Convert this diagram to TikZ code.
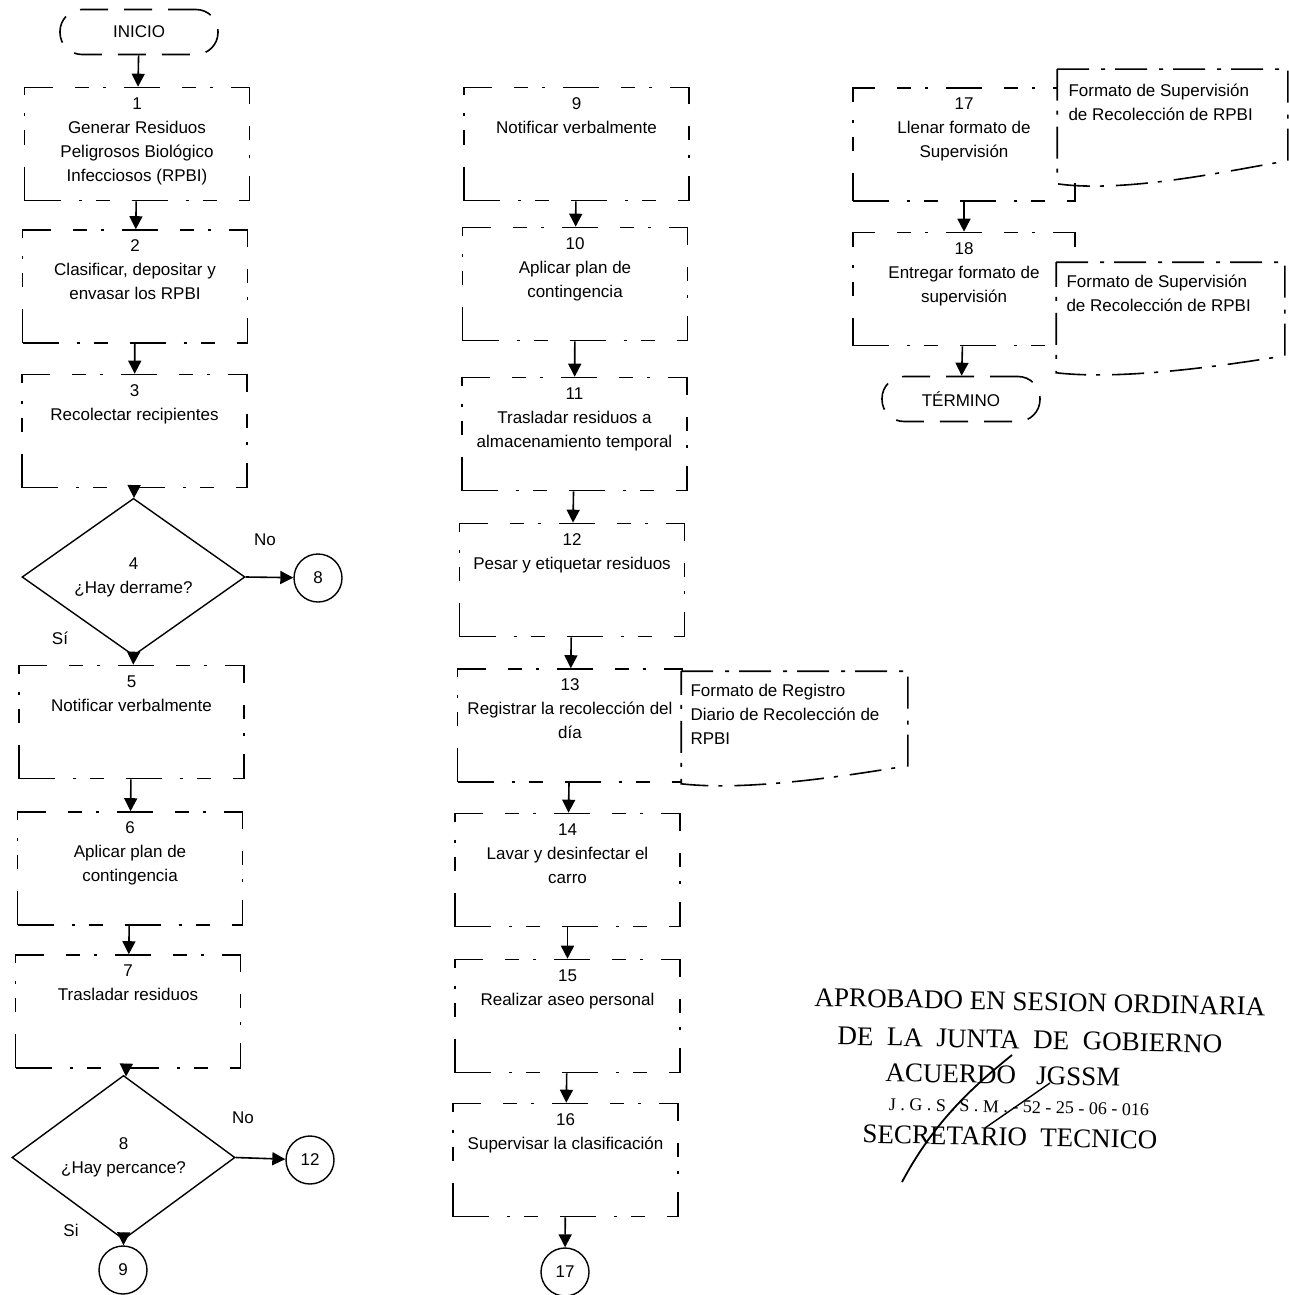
\documentclass[tikz,border=0pt]{standalone}
\usepackage{fontspec}
\setmainfont{Liberation Sans}
\newfontfamily\stampfont{Liberation Serif}
\usetikzlibrary{positioning,arrows.meta,calc,shapes.geometric}

\begin{document}
\begin{tikzpicture}[x=0.5pt,y=-0.5pt,>={Triangle[length=6.5pt,width=6.5pt]},line width=0.8pt,
 font=\fontsize{8.5}{12}\selectfont,
 stepbox/.style={draw,line width=0.8pt,dash pattern=on 18pt off 9pt on 1.5pt off 7pt on 7pt off 11pt,minimum width=112.5pt,minimum height=56.5pt,inner sep=0pt,
  execute at begin node={\begin{minipage}[t][46.5pt][t]{108pt}\centering},execute at end node={\end{minipage}}},
 decision/.style={draw,diamond,line width=0.7pt,minimum width=111.5pt,minimum height=56.5pt,inner sep=0pt,align=center},
 joint/.style={draw,circle,line width=0.7pt,minimum size=24pt,inner sep=0pt},
 terminal/.style={draw,rounded corners=11pt,line width=0.8pt,dash pattern=on 14pt off 8pt,minimum width=79pt,minimum height=22.5pt,inner sep=0pt},
 docbox/.style={fill=white,minimum height=55.5pt,inner sep=0pt,
  execute at begin node={\begin{minipage}[t][43pt][t]{104pt}\raggedright},execute at end node={\end{minipage}}},
 docline/.style={line width=0.8pt,dash pattern=on 16pt off 6pt on 2pt off 5pt},
 lbl/.style={inner sep=1pt},
 stamp/.style={rotate=-1.2,inner sep=0pt}]
\useasboundingbox (0,0) rectangle (1289,1295);
% first column
\node[terminal] (ini) at (139,32) {INICIO};
\node[stepbox] (b1) at (137,144) {1\\Generar Residuos\\Peligrosos Biológico\\Infecciosos (RPBI)};
\node[stepbox] (b2) at (135,286.5) {2\\Clasificar, depositar y\\envasar los RPBI};
\node[stepbox] (b3) at (134.5,431) {3\\Recolectar recipientes};
\node[decision] (d4) at (133.5,577) {4\\¿Hay derrame?};
\node[joint] (c8) at (318,578) {8};
\node[stepbox] (b5) at (131.5,722) {5\\Notificar verbalmente};
\node[stepbox] (b6) at (130,868.5) {6\\Aplicar plan de\\contingencia};
\node[stepbox] (b7) at (128,1011.5) {7\\Trasladar residuos};
\node[decision] (d8) at (123.5,1157.5) {8\\¿Hay percance?};
\node[joint] (c12) at (310,1160) {12};
\node[joint] (c9) at (123,1270) {9};
\node[lbl] (no4) at (265,540) {No};
\node[lbl] (si4) at (60,638) {Sí};
\node[lbl] (no8) at (243,1118) {No};
\node[lbl] (si8) at (71,1230) {Si};
% second column
\node[stepbox] (b9) at (576.5,144) {9\\Notificar verbalmente};
\node[stepbox] (b10) at (575,284) {10\\Aplicar plan de\\contingencia};
\node[stepbox] (b11) at (574.5,434) {11\\Trasladar residuos a\\almacenamiento temporal};
\node[stepbox] (b12) at (572,580) {12\\Pesar y etiquetar residuos};
\node[stepbox] (b13) at (570,725.5) {13\\Registrar la recolección del\\día};
\node[stepbox] (b14) at (567.5,870) {14\\Lavar y desinfectar el\\carro};
\node[stepbox] (b15) at (567.5,1016) {15\\Realizar aseo personal};
\node[stepbox] (b16) at (565.5,1160) {16\\Supervisar la clasificación};
\node[joint] (c17) at (565,1272) {17};
% third column
\node[stepbox,minimum width=111pt] (b17) at (964,144.5) {17\\Llenar formato de\\Supervisión};
\node[stepbox,minimum width=111pt] (b18) at (964,289) {18\\Entregar formato de\\supervisión};
\node[terminal] (fin) at (961,399) {TÉRMINO};
% documents
\node[docbox,minimum width=112.5pt] (f13) at (794.5,727.5) {Formato de Registro\\Diario de Recolección de\\RPBI};
\draw[docline] (f13.north west) -- (f13.north east) -- ($(f13.south east)+(0,-18)$) .. controls +(-50,8) and +(70,8) .. (f13.south west) -- cycle;
\node[docbox,minimum width=114.5pt,minimum height=56.5pt] (f17) at (1172.5,126.5) {Formato de Supervisión\\de Recolección de RPBI};
\draw[docline] (f17.north west) -- (f17.north east) -- ($(f17.south east)+(0,-23)$) .. controls +(-50,8) and +(70,10) .. (f17.south west) -- cycle;
\node[docbox,minimum width=113.5pt,minimum height=54.5pt] (f18) at (1170.5,317.5) {Formato de Supervisión\\de Recolección de RPBI};
\draw[docline] (f18.north west) -- (f18.north east) -- ($(f18.south east)+(0,-17)$) .. controls +(-50,8) and +(70,8) .. (f18.south west) -- cycle;
% connectors
\draw[->] (ini)--(b1);\draw[->] (b1)--(b2);\draw[->] (b2)--(b3);\draw[->] (b3)--(d4);
\draw[->] (d4.east)--(c8);\draw[->] (d4.south)--(b5);
\draw[->] (b5)--(b6);\draw[->] (b6)--(b7);\draw[->] (b7)--(d8);
\draw[->] (d8.east)--(c12);\draw[->] (d8.south)--(c9);
\draw[->] (b9)--(b10);\draw[->] (b10)--(b11);\draw[->] (b11)--(b12);\draw[->] (b12)--(b13);
\draw[->] (b13)--(b14);\draw[->] (b14)--(b15);\draw[->] (b15)--(b16);\draw[->] (b16)--(c17);
\draw[->] (b17)--(b18);\draw[->] (b18)--(fin);
% stamp
\begin{scope}[font=\stampfont\fontsize{13.5}{16}\selectfont]
\node[stamp] (st1) at (1040,1002) {APROBADO EN SESION ORDINARIA};
\node[stamp] (st2) at (1030,1040) {DE\ \ LA\ \ JUNTA\ \ DE\ \ GOBIERNO};
\node[stamp] (st3) at (1003,1075) {ACUERDO\ \ \ JGSSM};
\node[stamp,font=\stampfont\fontsize{9}{10}\selectfont] (st4) at (1019,1107) {J . G . S . S . M . - 52 - 25 - 06 - 016};
\node[stamp] (st5) at (1010,1137) {SECRETARIO\ \ TECNICO};
\end{scope}
\draw[line width=0.9pt] (1012,1055) .. controls (975,1085) and (935,1120) .. (902,1182);
\draw[line width=0.7pt] (1050,1083) -- (985,1128);
\end{tikzpicture}
\end{document}
